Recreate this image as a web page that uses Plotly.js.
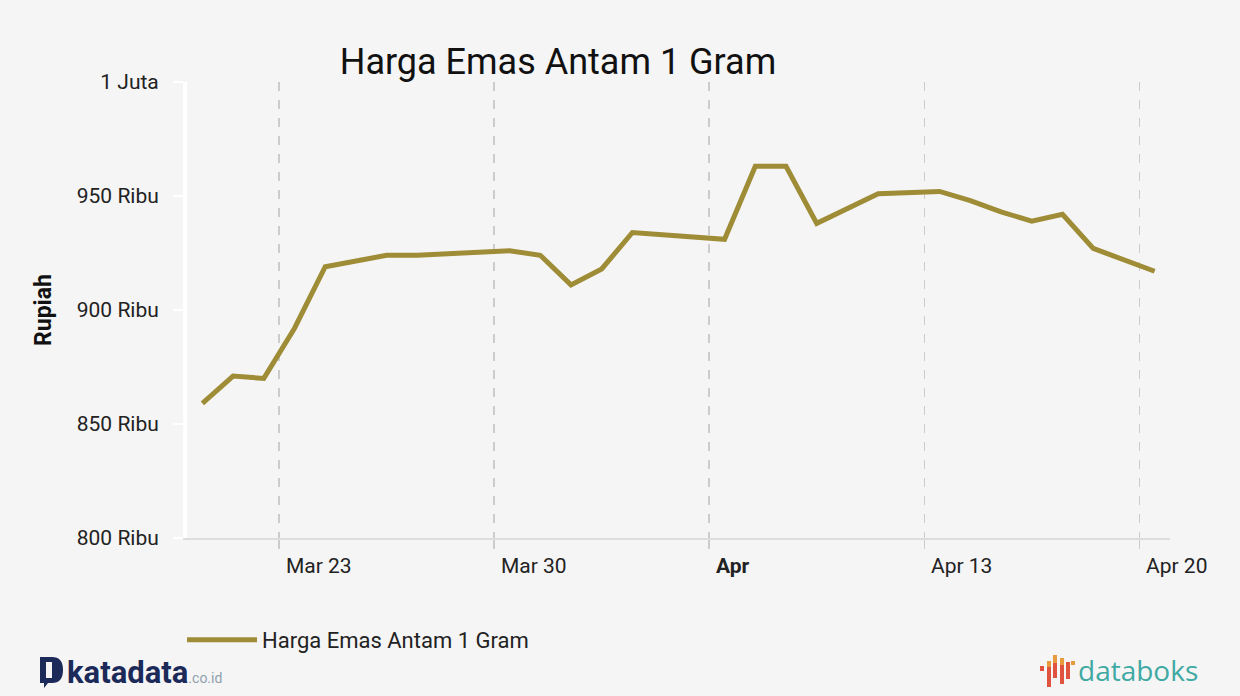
<!DOCTYPE html>
<html>
<head>
<meta charset="utf-8">
<script src="https://cdn.plot.ly/plotly-3.0.1.min.js"></script>
<style>
html,body{margin:0;padding:0;background:#f5f5f5;}
#chart{width:1240px;height:696px;}
</style>
</head>
<body>
<div id="chart"></div>
<script>
// Data (tanggal, harga dalam rupiah)
const dates = [
  "2020-03-20 12:00","2020-03-21 12:00","2020-03-22 12:00","2020-03-23 12:00","2020-03-24 12:00",
  "2020-03-26 12:00","2020-03-27 12:00","2020-03-30 12:00","2020-03-31 12:00","2020-04-01 12:00",
  "2020-04-02 12:00","2020-04-03 12:00","2020-04-06 12:00","2020-04-07 12:00","2020-04-08 12:00",
  "2020-04-09 12:00","2020-04-11 12:00","2020-04-13 12:00","2020-04-14 12:00","2020-04-15 12:00",
  "2020-04-16 12:00","2020-04-17 12:00","2020-04-18 12:00","2020-04-20 12:00"
];
const prices = [
  859000, 871000, 870000, 892000, 919000,
  924000, 924000, 926000, 924000, 911000,
  918000, 934000, 931000, 963000, 963000,
  938000, 951000, 952000, 948000, 943000,
  939000, 942000, 927000, 917000
];
const seriesName = "Harga Emas Antam 1 Gram";
const chartTitle = "Harga Emas Antam 1 Gram";
const yTickVals = [800000, 850000, 900000, 950000, 1000000];
const yTickText = ["800 Ribu", "850 Ribu", "900 Ribu", "950 Ribu", "1 Juta"];
const xTickVals = ["2020-03-23", "2020-03-30", "2020-04-06", "2020-04-13", "2020-04-20"];
const xTickText = ["Mar 23", "Mar 30", "<b>Apr</b>", "Apr 13", "Apr 20"];

// pixel -> paper helpers for decoration
const L = 187, R = 1170, T = 82, B = 538;
const px = x => (x - L) / (R - L);
const py = y => (B - y) / (B - T);

const font = "Roboto, 'Open Sans', sans-serif";

const trace = {
  x: dates, y: prices, type: "scatter", mode: "lines", name: seriesName,
  line: {color: "#9f8c36", width: 5},
  hoverinfo: "x+y"
};

// databoks icon bars
const bars = [
  [1040, 1044, 666, 671, "#e0533f"],
  [1047, 1051, 667, 687, "#e0533f"],
  [1047, 1051, 661, 667, "#e89a3c"],
  [1053, 1057, 655, 663, "#e89a3c"],
  [1053, 1057, 663, 678, "#e0533f"],
  [1060, 1064, 658, 665, "#e89a3c"],
  [1060, 1064, 665, 684, "#e0533f"],
  [1066, 1070, 662, 679, "#e0533f"],
  [1071, 1075, 661, 665, "#e89a3c"]
];
const shapes = bars.map(b => ({
  type: "rect", xref: "paper", yref: "paper",
  x0: px(b[0]), x1: px(b[1]), y0: py(b[3]), y1: py(b[2]),
  fillcolor: b[4], line: {width: 0}, layer: "above"
}));
// katadata D icon
shapes.push({
  type: "path", xref: "paper", yref: "paper",
  path: `M ${px(40)} ${py(657)} L ${px(52)} ${py(657)} Q ${px(63)} ${py(657)} ${px(63)} ${py(670)} Q ${px(63)} ${py(683)} ${px(52)} ${py(683)} L ${px(48)} ${py(683)} L ${px(44)} ${py(688)} L ${px(44)} ${py(683)} L ${px(40)} ${py(683)} Z`,
  fillcolor: "#1c2a5a", line: {width: 0}
});
shapes.push({
  type: "rect", xref: "paper", yref: "paper",
  x0: px(46), x1: px(52), y0: py(678), y1: py(662),
  fillcolor: "#f5f5f5", line: {width: 0}
});

const layout = {
  width: 1240, height: 696,
  paper_bgcolor: "#f5f5f5", plot_bgcolor: "#f5f5f5",
  margin: {l: L, r: 1240 - R, t: T, b: 696 - B},
  font: {family: font, color: "#222222", size: 21},
  title: {
    text: chartTitle, font: {family: font, size: 36, color: "#111111"},
    xref: "container", yref: "container", x: 558 / 1240, xanchor: "center",
    y: 1 - 61 / 696, yanchor: "middle"
  },
  showlegend: true,
  legend: {
    orientation: "h", x: -5 / (R - L), xanchor: "left", y: py(640), yanchor: "middle",
    font: {family: font, size: 22, color: "#222222"}, bgcolor: "rgba(0,0,0,0)",
    itemwidth: 70
  },
  xaxis: {
    type: "date", range: ["2020-03-20", "2020-04-21"],
    tickvals: xTickVals, ticktext: xTickText,
    ticklabelposition: "outside right",
    ticklabelshift: 5, ticklabelstandoff: 8,
    showgrid: true, gridcolor: "#cccccc", gridwidth: 1.5, griddash: "dash",
    ticks: "outside", ticklen: 9, tickcolor: "#cccccc", tickwidth: 1.5,
    showline: true, linecolor: "#dddddd", linewidth: 2,
    zeroline: false, fixedrange: true,
    tickfont: {family: font, size: 21, color: "#222222"}
  },
  yaxis: {
    range: [800000, 1000000],
    tickvals: yTickVals, ticktext: yTickText,
    showgrid: false, zeroline: false,
    showline: true, linecolor: "#ffffff", linewidth: 4,
    ticks: "outside", ticklen: 10, tickcolor: "#ffffff", tickwidth: 2,
    ticklabelstandoff: 10,
    tickfont: {family: font, size: 21, color: "#222222"},
    title: {text: "<b>Rupiah</b>", font: {family: font, size: 23, color: "#111111"}, standoff: 20},
    fixedrange: true
  },
  shapes: shapes,
  annotations: [
    {
      xref: "paper", yref: "paper", x: px(65), y: py(672), xanchor: "left", yanchor: "middle",
      showarrow: false,
      text: "<b>katadata</b><span style='font-size:14px;color:#8fa0ad'>.co.id</span>",
      font: {family: font, size: 31, color: "#1c2a5a"}
    },
    {
      xref: "paper", yref: "paper", x: px(1076), y: py(670), xanchor: "left", yanchor: "middle",
      showarrow: false,
      text: "databoks",
      font: {family: "'Open Sans', " + font, size: 28, color: "#3fa9a3"}
    }
  ]
};

Plotly.newPlot("chart", [trace], layout, {displayModeBar: false, staticPlot: true});
</script>
</body>
</html>
